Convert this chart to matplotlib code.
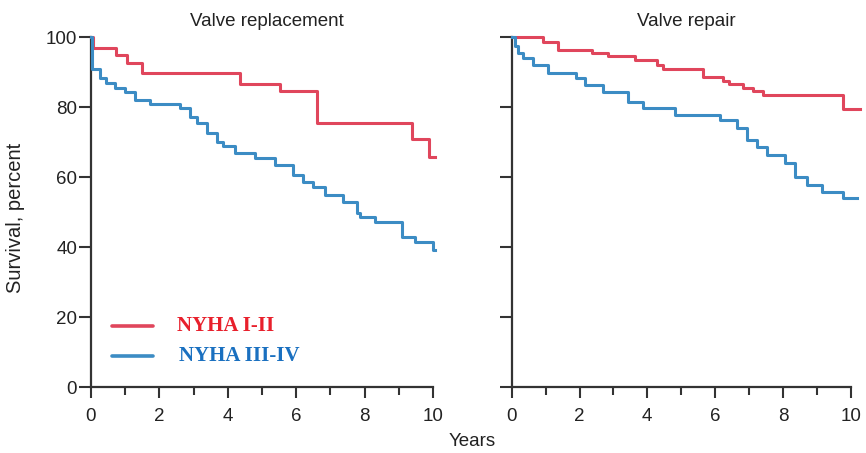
import matplotlib.pyplot as plt
from matplotlib.ticker import MultipleLocator

# Kaplan-Meier step data (years, survival %)
repl_low_t = [0, 0.05, 0.73, 1.04, 1.48, 4.36, 5.53, 6.62, 9.40, 9.87, 10.06]
repl_low_v = [100, 97, 94.9, 92.5, 89.6, 86.6, 84.7, 75.5, 71.0, 65.6, 65.6]

repl_high_t = [0, 0.03, 0.25, 0.45, 0.7, 1.0, 1.3, 1.73, 2.6, 2.9, 3.09, 3.38, 3.67,
               3.87, 4.21, 4.80, 5.38, 5.92, 6.21, 6.5, 6.84, 7.38, 7.77, 7.87, 8.30,
               9.08, 9.47, 10.0, 10.06]
repl_high_v = [100, 90.8, 88.2, 86.8, 85.3, 84.3, 82.0, 81.0, 79.6, 77.2, 75.3, 72.5, 70.1,
               68.9, 67.0, 65.3, 63.4, 60.6, 58.7, 57.2, 54.9, 52.9, 49.6, 48.7, 47.2,
               42.9, 41.5, 39.1, 39.1]

rep_low_t = [0, 0.93, 1.37, 2.36, 2.85, 3.64, 4.28, 4.45, 5.65, 6.24, 6.4, 6.83, 7.13,
             7.42, 9.76, 10.27]
rep_low_v = [100, 98.7, 96.3, 95.5, 94.6, 93.4, 92.0, 90.8, 88.7, 87.4, 86.6, 85.5, 84.6,
             83.4, 79.3, 79.3]

rep_high_t = [0, 0.1, 0.2, 0.34, 0.64, 1.08, 1.91, 2.16, 2.7, 3.44, 3.88, 4.82, 6.14,
              6.64, 6.93, 7.23, 7.52, 8.06, 8.35, 8.7, 9.14, 9.78, 10.2]
rep_high_v = [100, 97.5, 95.5, 93.9, 92.0, 89.6, 88.2, 86.3, 84.4, 81.5, 79.6, 77.7, 76.3,
              73.9, 70.6, 68.7, 66.3, 63.9, 60.1, 57.7, 55.8, 53.9, 53.9]

titles = ['Valve replacement', 'Valve repair']
legend_labels = ['NYHA I-II', 'NYHA III-IV']

red = '#e0465c'
blue = '#3c8cc4'
red_txt = '#e8202c'
blue_txt = '#1a70c0'
axis_col = '#333333'
txt_col = '#222222'

plt.rcParams['font.family'] = ['Liberation Sans', 'DejaVu Sans']

fig = plt.figure(figsize=(8.66, 4.53), dpi=100)
ax1 = fig.add_axes([91 / 866, 1 - 387 / 453, 10.3 * 34.2 / 866, 350 / 453])
ax2 = fig.add_axes([511.7 / 866, 1 - 387 / 453, 10.3 * 33.9 / 866, 350 / 453])

panels = [(ax1, repl_low_t, repl_low_v, repl_high_t, repl_high_v),
          (ax2, rep_low_t, rep_low_v, rep_high_t, rep_high_v)]

for i, (ax, lt, lv, ht, hv) in enumerate(panels):
    ax.step(lt, lv, where='post', color=red, lw=2.2, clip_on=False, zorder=3)
    ax.step(ht, hv, where='post', color=blue, lw=2.2, clip_on=False, zorder=3)
    ax.set_xlim(0, 10.3)
    ax.set_ylim(0, 100)
    for s in ['top', 'right']:
        ax.spines[s].set_visible(False)
    for s in ['left', 'bottom']:
        ax.spines[s].set_color(axis_col)
        ax.spines[s].set_linewidth(1.6)
    ax.spines['bottom'].set_bounds(0, 10)
    ax.set_xticks([0, 2, 4, 6, 8, 10])
    ax.xaxis.set_minor_locator(MultipleLocator(1))
    ax.yaxis.set_major_locator(MultipleLocator(20))
    ax.tick_params(axis='x', which='major', length=8, width=1.5, color=axis_col,
                   labelsize=13.5, labelcolor=txt_col, pad=7)
    ax.tick_params(axis='x', which='minor', length=6, width=1.5, color=axis_col)
    ax.tick_params(axis='y', which='major', length=9, width=1.5, color=axis_col,
                   labelsize=13.5, labelcolor=txt_col, pad=1)
    ax.set_title(titles[i], fontsize=13.5, color=txt_col, pad=8)
    if i == 1:
        ax.tick_params(axis='y', labelleft=False)

ax1.set_ylabel('Survival, percent', fontsize=14.5, color=txt_col)
ax1.yaxis.set_label_coords(-(91 - 25) / (10.3 * 34.2), 1 - (218 - 37) / 350)
fig.text(472 / 866, 1 - 442 / 453, 'Years', ha='center', va='center', fontsize=13.5,
         color=txt_col)

# legend drawn by hand like the original
leg_y = [17.4, 8.9]
leg_cols = [red, blue]
leg_txt_cols = [red_txt, blue_txt]
leg_x = [2.51, 2.57]
for y, c, tc, lab, tx in zip(leg_y, leg_cols, leg_txt_cols, legend_labels, leg_x):
    ax1.plot([0.62, 1.8], [y, y], color=c, lw=2.6, solid_capstyle='round')
    ax1.text(tx, y, lab, color=tc, fontsize=15, fontweight='bold',
             family=['Liberation Serif'], va='center', ha='left')

fig.savefig('out.png', dpi=100)
